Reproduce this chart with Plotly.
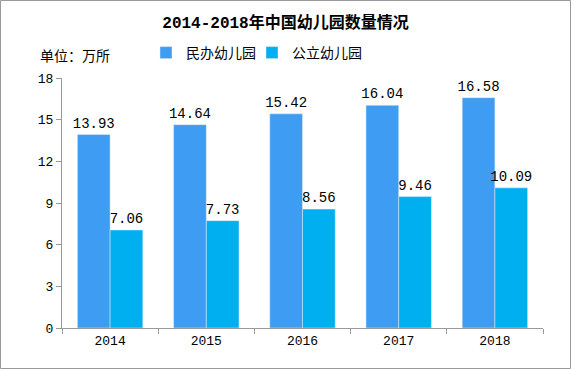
import plotly.graph_objects as go

years = ["2014", "2015", "2016", "2017", "2018"]
private = [13.93, 14.64, 15.42, 16.04, 16.58]
public = [7.06, 7.73, 8.56, 9.46, 10.09]
yticks = [0, 3, 6, 9, 12, 15, 18]

font = "Liberation Mono, Noto Sans CJK SC, monospace"

fig = go.Figure()
fig.add_trace(go.Bar(x=years, y=private, name="民办幼儿园", marker_color="#3E9CF2",
                     text=[f"{v:.2f}" for v in private], textposition="outside",
                     constraintext="none", legend="legend",
                     textfont=dict(size=14, color="#000000", family=font), cliponaxis=False))
fig.add_trace(go.Bar(x=years, y=public, name="公立幼儿园", marker_color="#00AFEF",
                     text=[f"{v:.2f}" for v in public], textposition="outside",
                     constraintext="none", legend="legend2",
                     textfont=dict(size=14, color="#000000", family=font), cliponaxis=False))

L, R, T, B = 62, 28, 78, 41
W, H = 571, 369
pw, ph = W - L - R, H - T - B

leg_common = dict(orientation="h", xanchor="left", y=(T + ph - 53) / ph, yanchor="middle",
                  font=dict(size=14), itemwidth=30, bgcolor="rgba(0,0,0,0)")

fig.update_layout(
    width=W, height=H,
    margin=dict(l=L, r=R, t=T, b=B, autoexpand=False),
    paper_bgcolor="white", plot_bgcolor="white",
    barmode="group", bargap=0.32, bargroupgap=0,
    font=dict(family=font, size=13, color="#000000"),
    title=dict(text="<b>2014-2018年中国幼儿园数量情况</b>", x=0.5, xanchor="center",
               yref="container", y=1 - 22 / H, yanchor="middle", font=dict(size=16, family=font)),
    legend=dict(x=(146 - L) / pw, **leg_common),
    legend2=dict(x=(252 - L) / pw, **leg_common),
    showlegend=True,
    xaxis=dict(showline=True, linecolor="#999999", linewidth=1, ticks="outside",
               tickson="boundaries", ticklen=5, tickcolor="#999999",
               tickfont=dict(size=13), showgrid=False, automargin=False),
    yaxis=dict(range=[0, 18], tickvals=yticks, showline=True, linecolor="#999999",
               linewidth=1, ticks="outside", ticklen=5, tickcolor="#999999",
               showgrid=False, zeroline=False, tickfont=dict(size=13), automargin=False),
    annotations=[dict(text="单位：万所", xref="paper", yref="paper",
                      x=(38 - L) / pw, y=(T + ph - 57) / ph, xanchor="left", yanchor="middle",
                      showarrow=False, font=dict(size=14))],
    shapes=[dict(type="rect", xref="paper", yref="paper",
                 x0=(0.5 - L) / pw, x1=(570.5 - L) / pw,
                 y0=(T + ph - 368.5) / ph, y1=(T + ph - 0.5) / ph,
                 line=dict(color="#999999", width=1))],
)

fig.write_html("out.html", config={"displayModeBar": False},
               post_script="document.body.style.margin='0';document.body.style.overflow='hidden';")
